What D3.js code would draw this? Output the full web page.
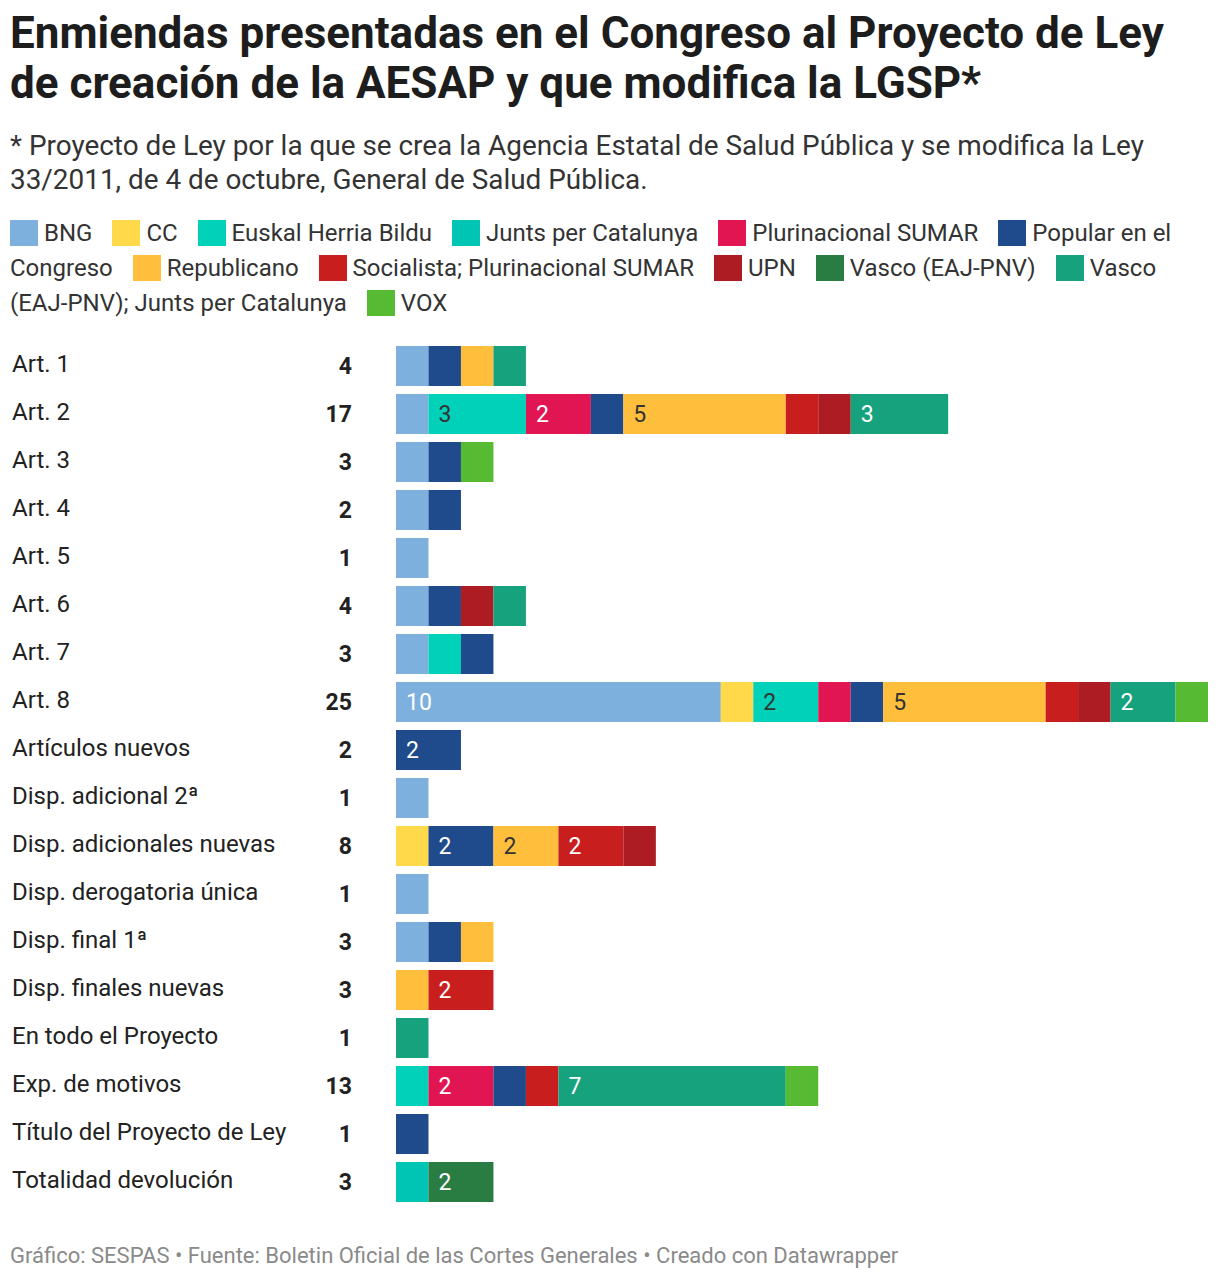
<!DOCTYPE html>
<html><head><meta charset="utf-8">
<script src="https://cdn.jsdelivr.net/npm/d3@7"></script>
<style>
body{margin:0;background:#fff;font-family:Roboto,"Noto Sans",sans-serif;}
#wrap{position:relative;width:1220px;height:1278px;}
#title{position:absolute;left:10px;top:8px;width:1205px;font-size:44px;font-weight:700;line-height:50px;color:#1d1d1d;white-space:nowrap}
#sub{position:absolute;left:10px;top:129px;width:1205px;font-size:27.9px;line-height:34px;color:#333;white-space:nowrap}
#legend{position:absolute;left:10px;top:216px;width:1200px;font-size:24px;line-height:35px;color:#333}
.sw{display:inline-block;width:28px;height:26px;vertical-align:-5px;margin-right:6px}
.last{margin-right:14px}
svg{position:absolute;left:0;top:0}
</style></head><body>
<div id="wrap">
<div id="title"></div><div id="sub"></div><div id="legend"></div>
<svg id="chart" width="1220" height="1278"></svg>
</div>
<script>
const titleLines = ["Enmiendas presentadas en el Congreso al Proyecto de Ley","de creación de la AESAP y que modifica la LGSP*"];
const subtitleLines = ["* Proyecto de Ley por la que se crea la Agencia Estatal de Salud Pública y se modifica la Ley","33/2011, de 4 de octubre, General de Salud Pública."];
const footerText = "Gráfico: SESPAS • Fuente: Boletin Oficial de las Cortes Generales • Creado con Datawrapper";

const categories = ["Art. 1","Art. 2","Art. 3","Art. 4","Art. 5","Art. 6","Art. 7","Art. 8","Artículos nuevos","Disp. adicional 2ª","Disp. adicionales nuevas","Disp. derogatoria única","Disp. final 1ª","Disp. finales nuevas","En todo el Proyecto","Exp. de motivos","Título del Proyecto de Ley","Totalidad devolución"];
const seriesNames = ["BNG","CC","Euskal Herria Bildu","Junts per Catalunya","Plurinacional SUMAR","Popular en el Congreso","Republicano","Socialista; Plurinacional SUMAR","UPN","Vasco (EAJ-PNV)","Vasco (EAJ-PNV); Junts per Catalunya","VOX"];
const seriesColors = ["#7eb0dd","#ffd94a","#00d1b8","#00c5b4","#e01552","#1f4a8b","#ffbf3d","#c91e1e","#ad1b23","#2a7d42","#17a27e","#57ba33"];
const darkLabel = [false,true,true,true,false,false,true,false,false,false,false,false];

// values per series, aligned with categories
const BNG        = [1,1,1,1,1,1,1,10,0,1,0,1,1,0,0,0,0,0];
const CC         = [0,0,0,0,0,0,0,1,0,0,1,0,0,0,0,0,0,0];
const EHBildu    = [0,3,0,0,0,0,1,2,0,0,0,0,0,0,0,1,0,0];
const Junts      = [0,0,0,0,0,0,0,0,0,0,0,0,0,0,0,0,0,1];
const SUMAR      = [0,2,0,0,0,0,0,1,0,0,0,0,0,0,0,2,0,0];
const Popular    = [1,1,1,1,0,1,1,1,2,0,2,0,1,0,0,1,1,0];
const Republicano= [1,5,0,0,0,0,0,5,0,0,2,0,1,1,0,0,0,0];
const Socialista = [0,1,0,0,0,0,0,1,0,0,2,0,0,2,0,1,0,0];
const UPN        = [0,1,0,0,0,1,0,1,0,0,1,0,0,0,0,0,0,0];
const Vasco      = [0,0,0,0,0,0,0,0,0,0,0,0,0,0,0,0,0,2];
const VascoJunts = [1,3,0,0,0,1,0,2,0,0,0,0,0,0,1,7,0,0];
const VOX        = [0,0,1,0,0,0,0,1,0,0,0,0,0,0,0,1,0,0];
const seriesValues = [BNG,CC,EHBildu,Junts,SUMAR,Popular,Republicano,Socialista,UPN,Vasco,VascoJunts,VOX];

d3.select("#title").selectAll("div").data(titleLines).join("div").text(d=>d);
d3.select("#sub").selectAll("div").data(subtitleLines).join("div").text(d=>d);
const leg = d3.select("#legend");
seriesNames.forEach((n,i)=>{
  leg.append("span").attr("class","sw").style("background",seriesColors[i]);
  const words = n.split(" ");
  words.forEach((w,wi)=>{
    leg.append("span").attr("class", wi===words.length-1 ? "last" : null).text(w);
    leg.append(()=>document.createTextNode(" "));
  });
});

const rows = categories.map((c,ci)=>{
  const o = {cat:c};
  seriesNames.forEach((s,si)=>o[s]=seriesValues[si][ci]);
  return o;
});
const stack = d3.stack().keys(seriesNames)(rows);
const totals = categories.map((c,ci)=>d3.sum(seriesValues,v=>v[ci]));

const svg = d3.select("#chart");
const x = d3.scaleLinear().domain([0,25]).range([396,1208]);
const y = d3.scaleBand().domain(categories).range([342,342+48*categories.length]).paddingInner(0.1667).paddingOuter(0.0833);

const g = svg.append("g");
stack.forEach((layer,si)=>{
  const gg = g.append("g").attr("fill",seriesColors[si]);
  layer.forEach((d,ci)=>{
    if(d[1]-d[0] <= 0) return;
    gg.append("rect").attr("x",x(d[0])).attr("y",y(categories[ci]))
      .attr("width",x(d[1])-x(d[0])).attr("height",y.bandwidth());
    if(d[1]-d[0] >= 2){
      svg.append("text").attr("x",x(d[0])+10).attr("y",y(categories[ci])+y.bandwidth()/2)
        .attr("dy","0.35em").attr("font-size",23)
        .attr("fill",darkLabel[si]?"#333":"#fff").text(d[1]-d[0]);
    }
  });
});

// category labels
svg.append("g").selectAll("text").data(categories).join("text")
  .attr("x",12).attr("y",d=>y(d)+y.bandwidth()/2-2).attr("dy","0.35em")
  .attr("font-size",24).attr("fill","#222").text(d=>d);
svg.append("g").selectAll("text").data(categories).join("text")
  .attr("x",352).attr("y",d=>y(d)+y.bandwidth()/2).attr("dy","0.35em")
  .attr("text-anchor","end").attr("font-size",23).attr("font-weight",700).attr("fill","#222")
  .text((d,i)=>totals[i]);

svg.append("text").attr("x",10).attr("y",1263).attr("font-size",22).attr("fill","#8a8a8a").text(footerText);
</script>
</body></html>
